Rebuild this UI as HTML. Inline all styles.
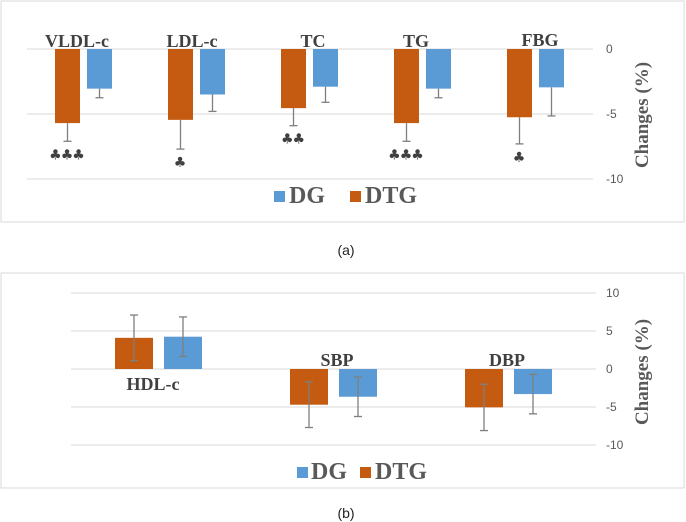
<!DOCTYPE html>
<html><head><meta charset="utf-8"><style>
body{margin:0;background:#fff;width:686px;height:522px;overflow:hidden}
svg{display:block}
.cat{font-family:"Liberation Serif",serif;font-weight:bold;font-size:18px;fill:#404040;text-anchor:middle}
.tick{font-family:"Liberation Sans",sans-serif;font-size:12px;fill:#595959;text-anchor:start}
.ttl{font-family:"Liberation Serif",serif;font-weight:bold;font-size:19px;fill:#595959;text-anchor:middle}
.leg{font-family:"Liberation Serif",serif;font-weight:bold;font-size:24px;fill:#595959}
.cap{font-family:"Liberation Sans",sans-serif;font-size:14px;fill:#222;text-anchor:middle}
.sig{font-family:"DejaVu Sans",sans-serif;font-size:14px;fill:#404040;text-anchor:middle;letter-spacing:-1px}
</style></head><body>
<svg id="s" width="686" height="522">
<rect x="1" y="1" width="683" height="221" fill="none" stroke="#d9d9d9"/>
<rect x="1" y="273" width="683" height="215" fill="none" stroke="#d9d9d9"/>
<text class="cap" x="346" y="255">(a)</text>
<text class="cap" x="346" y="518">(b)</text>
</svg>
<script>
const catsA=["VLDL-c","LDL-c","TC","TG","FBG"];
const dtgA=[-5.7,-5.45,-4.55,-5.7,-5.25];
const dtgErrA=[1.4,2.25,1.35,1.4,2.05];
const dgA=[-3.05,-3.5,-2.9,-3.05,-2.95];
const dgErrA=[0.7,1.3,1.2,0.7,2.2];
const sigA=["♣♣♣","♣","♣♣","♣♣♣","♣"];
const ticksA=[0,-5,-10];
const catsB=["HDL-c","SBP","DBP"];
const dtgB=[4.1,-4.7,-5.05];
const dtgErrB=[3.0,3.0,3.05];
const dgB=[4.25,-3.65,-3.3];
const dgErrB=[2.6,2.6,2.6];
const ticksB=[10,5,0,-5,-10];

const NS="http://www.w3.org/2000/svg";
const svg=document.getElementById('s');
function mk(t,a,txt){const e=document.createElementNS(NS,t);for(const k in a)e.setAttribute(k,a[k]);if(txt!=null)e.textContent=txt;svg.appendChild(e);return e;}
const ORANGE="#c55a11",BLUE="#5b9bd5",ERR="#7f7f7f";

function panel(p){
  const y=v=>p.y0-v*p.k;
  p.ticks.forEach(t=>{
    const g=mk('line',{x1:p.gx0,x2:p.gx1,y1:y(t),y2:y(t),stroke:"#d9d9d9"});
    
    
    const l=mk('text',{class:'tick',x:606,y:y(t)+4},String(t));
    
    
  });
  p.cats.forEach((c,i)=>{
    const cx=p.c0+i*p.step;
    [[p.dtg[i],p.dtgE[i],cx-p.w-p.gap/2,ORANGE,'bar-dtg-'],[p.dg[i],p.dgE[i],cx+p.gap/2,BLUE,'bar-dg-']].forEach(([v,e,x,col,nm])=>{
      const r=mk('rect',{x:x,y:Math.min(y(0),y(v)),width:p.w,height:Math.abs(y(v)-y(0)),fill:col});
      
      
      const mx=x+p.w/2;
      const top=p.oneSided?y(v):y(v+e), bot=y(v-e);
      const el=mk('line',{x1:mx,x2:mx,y1:top,y2:bot,stroke:ERR,'stroke-width':1.3});
      
      
      const caps=p.oneSided?[bot]:[top,bot];
      caps.forEach(cy=>{const cp=mk('line',{x1:mx-4,x2:mx+4,y1:cy,y2:cy,stroke:ERR,'stroke-width':1.3});
        
        });
    });
    const lb=mk('text',{class:'cat',x:p.lx[i],y:p.ly[i]},c);
    
    
    if(p.sig){const sg=mk('text',{class:'sig',x:cx-p.w/2-p.gap/2-1,y:y(p.dtg[i]-p.dtgE[i])+18},p.sig[i]);
      
      }
  });
  const t=mk('text',{class:'ttl',transform:`translate(${648},${p.ty}) rotate(-90)`},"Changes (%)");
  
  
  const L=p.leg;
  const s1=mk('rect',{x:L[0],y:L[4]-12,width:11,height:11,fill:BLUE});
  
  
  const t1=mk('text',{class:'leg',x:L[1],y:L[4]},"DG");
  
  
  const s2=mk('rect',{x:L[2],y:L[4]-12,width:11,height:11,fill:ORANGE});
  
  
  const t2=mk('text',{class:'leg',x:L[3],y:L[4]},"DTG");
  
  
}
panel({cats:catsA,dtg:dtgA,dtgE:dtgErrA,dg:dgA,dgE:dgErrA,ticks:ticksA,y0:49,k:13,gx0:27,gx1:593,
  c0:83.5,step:113,w:25,gap:7,oneSided:true,sig:sigA,lx:[77,192,313,416,540],ly:[47,47,47,47,46],ty:115,
  leg:[274,289,350,365,203]});
panel({cats:catsB,dtg:dtgB,dtgE:dtgErrB,dg:dgB,dgE:dgErrB,ticks:ticksB,y0:369,k:7.6,gx0:71,gx1:596,
  c0:158.5,step:175,w:38,gap:11,oneSided:false,lx:[153,337,507],ly:[390,366,366],ty:372,
  leg:[297,311,360,375,479]});
</script>
</body></html>
